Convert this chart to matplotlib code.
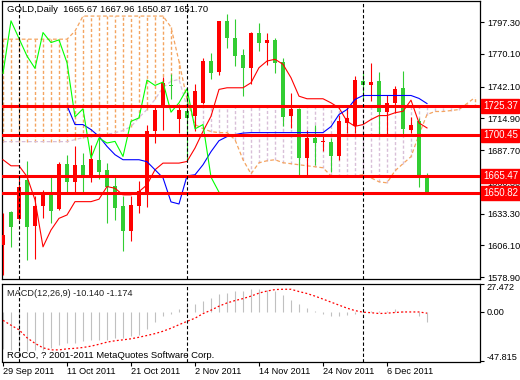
import matplotlib
matplotlib.use("Agg")
import matplotlib.pyplot as plt
from matplotlib.transforms import blended_transform_factory

# daily bars, 29 Sep 2011 .. 13 Dec 2011 (index = bar number)
opens = [1606.4, 1635.0, 1628.7, 1662.3, 1622.7, 1639.9, 1650.2, 1637.1, 1676.0, 1660.8,
         1675.2, 1666.6, 1678.9, 1670.3, 1657.4, 1639.9, 1618.7, 1640.2, 1652.2, 1703.8,
         1723.9, 1743.5, 1714.5, 1721.6, 1716.7, 1728.2, 1764.0, 1754.6, 1798.4, 1783.3,
         1768.9, 1758.3, 1787.8, 1779.8, 1782.1, 1763.2, 1716.7, 1723.1, 1680.9, 1698.1,
         1694.4, 1694.4, 1682.3, 1711.0, 1708.1, 1746.8, 1743.1, 1746.8, 1720.2, 1728.2,
         1741.1, 1705.3, 1712.4, 1665.67]
highs = [1633.6, 1636.0, 1665.1, 1678.0, 1648.5, 1653.7, 1665.7, 1677.2, 1683.8, 1691.5,
         1685.5, 1692.4, 1698.1, 1676.6, 1664.6, 1648.5, 1648.5, 1661.7, 1709.6, 1725.3,
         1750.6, 1752.6, 1726.8, 1739.7, 1744.0, 1766.9, 1771.2, 1798.4, 1804.2, 1799.9,
         1774.1, 1789.0, 1796.4, 1788.4, 1783.3, 1766.9, 1736.8, 1723.5, 1705.3, 1709.6,
         1700.1, 1698.1, 1718.2, 1725.3, 1751.1, 1754.0, 1762.6, 1754.6, 1735.0, 1742.5,
         1755.4, 1716.0, 1715.3, 1667.96]
lows = [1580.6, 1604.9, 1627.9, 1593.5, 1594.9, 1629.3, 1625.0, 1636.5, 1652.2, 1652.2,
        1651.4, 1660.0, 1662.9, 1625.6, 1627.9, 1601.5, 1610.1, 1634.2, 1639.3, 1693.8,
        1705.3, 1731.1, 1702.4, 1679.5, 1703.8, 1726.8, 1748.3, 1751.7, 1775.5, 1759.7,
        1733.9, 1744.0, 1772.6, 1760.3, 1753.4, 1708.7, 1706.7, 1665.1, 1666.6, 1675.2,
        1686.6, 1669.4, 1679.5, 1702.4, 1702.4, 1729.6, 1729.6, 1701.0, 1701.0, 1719.6,
        1701.0, 1702.0, 1656.5, 1650.87]
closes = [1615.0, 1622.1, 1656.5, 1622.1, 1639.9, 1650.2, 1635.9, 1676.0, 1660.8, 1675.2,
          1666.6, 1680.1, 1668.6, 1656.5, 1638.5, 1618.7, 1640.8, 1652.8, 1704.4, 1722.5,
          1744.8, 1742.5, 1722.5, 1715.3, 1738.2, 1764.0, 1753.4, 1798.4, 1783.3, 1768.3,
          1757.7, 1788.4, 1779.8, 1782.1, 1762.6, 1716.2, 1723.1, 1680.9, 1698.1, 1693.8,
          1695.2, 1682.3, 1712.4, 1715.3, 1747.7, 1743.1, 1746.0, 1720.2, 1728.2, 1740.3,
          1705.9, 1709.6, 1664.6, 1651.70]

tenkan = [1679.5, 1674.3, 1674.3, 1665.1, 1645.1, 1604.9, 1619.3, 1629.3, 1632.2, 1643.6,
          1643.6, 1643.6, 1645.7, 1656.5, 1655.1, 1649.4, 1649.4, 1652.2, 1658.0, 1670.9,
          1676.6, 1676.6, 1676.6, 1678.0, 1689.5, 1703.8, 1716.7, 1739.7, 1741.1, 1741.1,
          1741.1, 1745.4, 1758.3, 1764.0, 1765.5, 1761.2, 1749.7, 1733.9, 1731.7, 1731.7,
          1731.7, 1728.2, 1723.9, 1712.4, 1708.1, 1709.6, 1713.9, 1717.3, 1717.3, 1719.7,
          1721.0, 1730.5, 1711.0, 1706.7]
kijun = [1725.8, 1725.8, 1725.8, 1725.8, 1725.8, 1725.8, 1725.8, 1725.8, 1725.8, 1709.6,
         1709.6, 1705.3, 1699.5, 1690.9, 1683.8, 1679.5, 1679.5, 1679.5, 1677.8, 1670.9,
         1664.0, 1643.4, 1641.6, 1665.7, 1666.6, 1675.2, 1686.4, 1695.8, 1699.3, 1701.0,
         1702.3, 1702.7, 1702.7, 1702.7, 1702.7, 1702.7, 1702.7, 1702.7, 1702.7, 1702.7,
         1702.7, 1707.9, 1718.2, 1722.5, 1731.1, 1734.5, 1734.5, 1734.5, 1734.5, 1734.5,
         1734.5, 1734.5, 1732.0, 1727.6]
# cloud, shifted 26 bars forward (visible part only)
senkou_a = [1782.7, 1782.7, 1782.7, 1782.7, 1782.7, 1782.7, 1782.7, 1782.7, 1782.7, 1789.6,
            1802.5, 1802.5, 1802.5, 1802.5, 1802.5, 1802.5, 1802.5, 1802.5, 1802.5, 1802.5,
            1802.5, 1793.0, 1763.7, 1731.1, 1709.6, 1706.1, 1703.6, 1702.7, 1702.7, 1696.7,
            1679.5, 1667.4, 1676.9, 1678.6, 1679.5, 1676.9, 1676.1, 1675.2, 1674.3, 1673.5,
            1672.6, 1665.7, 1664.9, 1664.9, 1665.7, 1666.6, 1664.0, 1660.6, 1659.7, 1670.0,
            1676.1, 1682.1, 1701.0, 1718.2, 1720.8, 1720.8, 1721.6, 1722.5, 1727.6, 1732.8]
senkou_b = [1695.0, 1695.0, 1695.0, 1695.0, 1695.0, 1695.0, 1695.0, 1695.0, 1695.0, 1696.7,
            1698.4, 1699.3, 1700.1, 1701.0, 1702.7, 1704.4, 1707.9, 1715.6, 1722.5, 1731.1,
            1741.4, 1746.6, 1748.3, 1724.8, 1724.8, 1724.8, 1724.8, 1724.8, 1724.8, 1724.8,
            1724.8, 1724.8, 1724.8, 1724.8, 1724.8, 1724.8, 1724.8, 1724.8, 1724.8, 1724.8,
            1724.8, 1724.8, 1724.8, 1724.8, 1724.8, 1724.8, 1724.8, 1724.8, 1724.8, 1724.8,
            1724.8, 1724.8, 1724.8, 1724.8, 1724.8, 1724.8, 1724.8, 1724.8, 1724.8, 1724.8]

macd_main = [-35.4, -36.4, -38.0, -38.0, -36.4, -36.4, -34.7, -31.5, -29.9, -29.9,
             -28.3, -27.3, -27.3, -26.7, -25.0, -25.0, -23.5, -21.8, -16.3, -9.9,
             -4.1, -2.4, 2.4, 5.6, 7.3, 10.5, 13.7, 16.9, 18.6, 20.2,
             20.2, 21.8, 22.5, 21.0, 20.5, 16.0, 12.0, 7.5, 3.5, 0.8,
             -2.3, -3.6, -3.8, -3.0, -1.5, -0.5, 0.5, 0.8, 1.3, 2.5,
             0.5, -0.5, -3.5, -10.14]
macd_signal = [-8.1, -12.8, -17.2, -24.9, -30.3, -34.6, -36.6, -36.6, -35.6, -35.1,
               -34.3, -33.0, -31.2, -29.1, -27.8, -26.9, -25.9, -24.4, -22.7, -20.9,
               -18.6, -15.7, -12.3, -9.1, -6.0, -1.6, 1.7, 5.6, 8.7, 11.0,
               12.9, 15.3, 18.2, 20.2, 21.6, 21.9, 21.9, 19.7, 17.8, 15.3,
               12.4, 9.5, 6.6, 3.7, 1.3, -0.2, -0.7, -1.5, -1.2, -0.5,
               0.0, 0.0, 0.0, -1.174]

levels = [1725.37, 1700.45, 1665.47, 1650.82]
price_ticks = [1797.30, 1770.10, 1742.10, 1714.90, 1687.70, 1660.30, 1633.30, 1606.10, 1578.90]
macd_ticks = [27.472, 0.0, -47.815]
date_ticks = [0, 8, 16, 24, 32, 40, 48]
date_labels = ["29 Sep 2011", "11 Oct 2011", "21 Oct 2011", "2 Nov 2011",
               "14 Nov 2011", "24 Nov 2011", "6 Dec 2011"]
month_starts = [2, 23, 45]

W, H = 520, 380
plt.rcParams['font.family'] = ['Liberation Sans', 'DejaVu Sans']
fs = 6.6

fig = plt.figure(figsize=(W / 100, H / 100), dpi=100)
ax = fig.add_axes([2 / W, 1 - 278.5 / H, 478 / W, 277.5 / H])
mx = fig.add_axes([2 / W, 1 - 361.5 / H, 478 / W, 78 / H])

xlim = (-0.125, 59.625)

# cloud
xs = list(range(len(senkou_a)))
for p in xs:
    a, b = senkou_a[p], senkou_b[p]
    col = "#f4a460" if a > b else "#d8bfd8"
    ax.vlines(p, min(a, b), max(a, b), colors=col, linestyles=(0, (2.2, 1.6)), lw=1.0, zorder=1)
ax.plot(xs, senkou_a, color="#f4a460", ls=(0, (3, 2)), lw=0.9, zorder=1.5)
ax.plot(xs, senkou_b, color="#d8bfd8", ls=(0, (3, 2)), lw=0.9, zorder=1.5)

# candles (red = up, green = down)
for i in range(len(opens)):
    o, hi, lo, c = opens[i], highs[i], lows[i], closes[i]
    col = "#ff0000" if c >= o else "#32cd32"
    ax.vlines(i, lo, hi, colors=col, lw=0.8, zorder=3)
    ax.bar(i, max(abs(c - o), 0.9), bottom=min(o, c), width=0.62, color=col, zorder=3)

n = len(closes)
ax.plot(range(n), tenkan, color="#ff0000", lw=0.8, zorder=4)
ax.plot(range(n), kijun, color="#0000ff", lw=0.8, zorder=4)
ax.plot(range(n - 26), closes[26:], color="#00ff00", lw=0.8, zorder=4)  # chikou span

for lv in levels:
    ax.axhline(lv, color="#ff0000", lw=2.2, zorder=5)

for a in (ax, mx):
    for m in month_starts:
        a.axvline(m, color="black", ls=(0, (3, 2)), lw=0.8, zorder=6)
    a.set_xlim(*xlim)
    a.yaxis.tick_right()
    a.tick_params(axis="y", length=3, width=0.8, labelsize=fs, pad=2)
    for s in a.spines.values():
        s.set_linewidth(0.9)

ax.set_ylim(1577.8, 1815.4)
ax.set_yticks(price_ticks)
ax.set_yticklabels([f"{v:.2f}" for v in price_ticks])
ax.set_xticks([])

tr = blended_transform_factory(ax.transAxes, ax.transData)
for lv in levels:
    ax.text(1.006, lv, f"{lv:.2f}", transform=tr, color="white", fontsize=fs + 0.4,
            va="center", ha="left", zorder=10,
            bbox=dict(boxstyle="square,pad=0.18", fc="#ff0000", ec="#ff0000"))

# MACD panel
mx.vlines(range(n), 0, macd_main, colors="#c0c0c0", lw=0.8, zorder=2)
mx.plot(range(n), macd_signal, color="#ff0000", ls=(0, (1.5, 1.8)), lw=0.9, zorder=3)
mx.set_ylim(-47.815, 27.472)
mx.set_yticks(macd_ticks)
mx.set_yticklabels(["27.472", "0.00", "-47.815"])
tl = mx.get_yticklabels()
tl[0].set_va("top")
tl[2].set_va("bottom")
mx.set_xticks(date_ticks)
mx.set_xticklabels(date_labels)
mx.tick_params(axis="x", length=3, width=0.8, labelsize=fs, pad=1)
for t in mx.get_xticklabels():
    t.set_ha("left")

fig.text(7 / W, 1 - 10 / H, "GOLD,Daily  1665.67 1667.96 1650.87 1651.70",
         fontsize=fs + 0.2, va="center", ha="left")
fig.text(7 / W, 1 - 294 / H, "MACD(12,26,9) -10.140 -1.174", fontsize=fs,
         va="center", ha="left", color="#202020")
fig.text(7 / W, 1 - 355 / H, "ROCO, ? 2001-2011 MetaQuotes Software Corp.",
         fontsize=fs + 0.2, va="center", ha="left")

fig.savefig("out.png", dpi=100)
